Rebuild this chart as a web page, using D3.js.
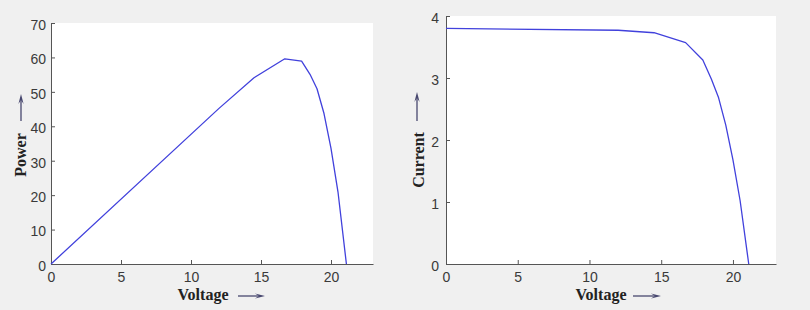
<!DOCTYPE html>
<html><head><meta charset="utf-8">
<script src="https://cdn.jsdelivr.net/npm/d3@7"></script>
<style>
html,body{margin:0;padding:0;background:#f0f0f0;}
svg{display:block;}
</style></head>
<body>
<svg id="c" width="810" height="310"></svg>
<script>
// ---- data ----
const voltage = [0, 12, 14.5, 16.7, 17.9, 18.5, 19.0, 19.5, 20.0, 20.5, 21.1];
const power   = [0, 45.2, 54.1, 59.6, 58.9, 55.1, 50.9, 43.7, 33.6, 20.9, 0];
const current = [3.80, 3.77, 3.73, 3.57, 3.29, 2.98, 2.68, 2.24, 1.68, 1.02, 0];
const xTicks = [0, 5, 10, 15, 20];
const powerTicks = [0, 10, 20, 30, 40, 50, 60, 70];
const currentTicks = [0, 1, 2, 3, 4];
const xLabel = "Voltage";
const powerLabel = "Power";
const currentLabel = "Current";

const svg = d3.select("#c");
svg.append("rect").attr("width",810).attr("height",310).attr("fill","#f0f0f0");

const axisColor = "#555";
const textColor = "#3a3a3a";
const lineColor = "#4141dc";
const arrowColor = "#47476f";

function arrow(g, x1, y1, x2, y2) {
  const dx = x2 - x1, dy = y2 - y1, len = Math.hypot(dx, dy);
  const ux = dx/len, uy = dy/len, px = -uy, py = ux;
  const hl = 10, hw = 2.6;
  g.append("line").attr("x1",x1).attr("y1",y1)
    .attr("x2",x2 - ux*hl*0.6).attr("y2",y2 - uy*hl*0.6)
    .attr("stroke",arrowColor).attr("stroke-width",1.3);
  const bx = x2 - ux*hl, by = y2 - uy*hl;
  g.append("path")
    .attr("d",`M${x2},${y2}L${bx+px*hw},${by+py*hw}L${x2-ux*hl*0.6},${y2-uy*hl*0.6}L${bx-px*hw},${by-py*hw}Z`)
    .attr("fill",arrowColor);
}

function panel(cfg) {
  const g = svg.append("g");
  const x = d3.scaleLinear().domain([0, 23]).range([cfg.left, cfg.right]);
  const y = d3.scaleLinear().domain(cfg.yDomain).range([cfg.bottom, cfg.top]);
  g.append("rect").attr("x",cfg.left).attr("y",cfg.top)
    .attr("width",cfg.right-cfg.left).attr("height",cfg.bottom-cfg.top).attr("fill","#fff");

  const xa = g.append("g").attr("transform",`translate(0,${cfg.bottom})`)
    .call(d3.axisBottom(x).tickValues(xTicks).tickFormat(d3.format("d"))
      .tickSizeInner(-4).tickSizeOuter(0).tickPadding(10));
  const ya = g.append("g").attr("transform",`translate(${cfg.left},0)`)
    .call(d3.axisLeft(y).tickValues(cfg.yTicks).tickFormat(d3.format("d"))
      .tickSizeInner(-4).tickSizeOuter(0).tickPadding(cfg.yPad));
  [xa, ya].forEach(a => {
    a.attr("font-family","'Liberation Sans', Arial, sans-serif").attr("font-size",14);
    a.select(".domain").attr("stroke",axisColor);
    a.selectAll(".tick line").attr("stroke",axisColor);
    a.selectAll(".tick text").attr("fill",textColor);
  });
  xa.selectAll(".tick text").attr("y",18).attr("dy",0);
  ya.selectAll(".tick text").attr("dy","0.45em");

  const line = d3.line().x(d => x(d[0])).y(d => y(d[1]));
  g.append("path").datum(voltage.map((v,i) => [v, cfg.values[i]]))
    .attr("d", line).attr("fill","none").attr("stroke",lineColor)
    .attr("stroke-width",1.3).attr("stroke-linejoin","round");

  const serif = "'Liberation Serif', 'Times New Roman', serif";
  g.append("text").attr("x",cfg.xlabX).attr("y",300).attr("text-anchor","middle")
    .style("font-family",serif).style("font-weight","bold").style("font-size","16px")
    .attr("fill","#222").text(xLabel);
  arrow(g, cfg.xArrow[0], 296, cfg.xArrow[1], 296);

  g.append("text").attr("transform",`translate(${cfg.ylabX},${cfg.ylabY}) rotate(-90)`)
    .attr("text-anchor","middle")
    .style("font-family",serif).style("font-weight","bold").style("font-size","16px")
    .attr("fill","#222").text(cfg.yLabel);
  arrow(g, cfg.yArrowX, cfg.yArrow[0], cfg.yArrowX, cfg.yArrow[1]);
}

panel({left:51, right:373, top:23, bottom:264, yDomain:[0,70], yTicks:powerTicks, yPad:5,
  values:power, yLabel:powerLabel, xlabX:203, xArrow:[238,265],
  ylabX:26, ylabY:155, yArrowX:21, yArrow:[121,94]});
panel({left:446, right:776, top:16, bottom:264, yDomain:[0,4], yTicks:currentTicks, yPad:7,
  values:current, yLabel:currentLabel, xlabX:601, xArrow:[633,661],
  ylabX:424, ylabY:160, yArrowX:417, yArrow:[121,92]});
</script>
</body></html>
